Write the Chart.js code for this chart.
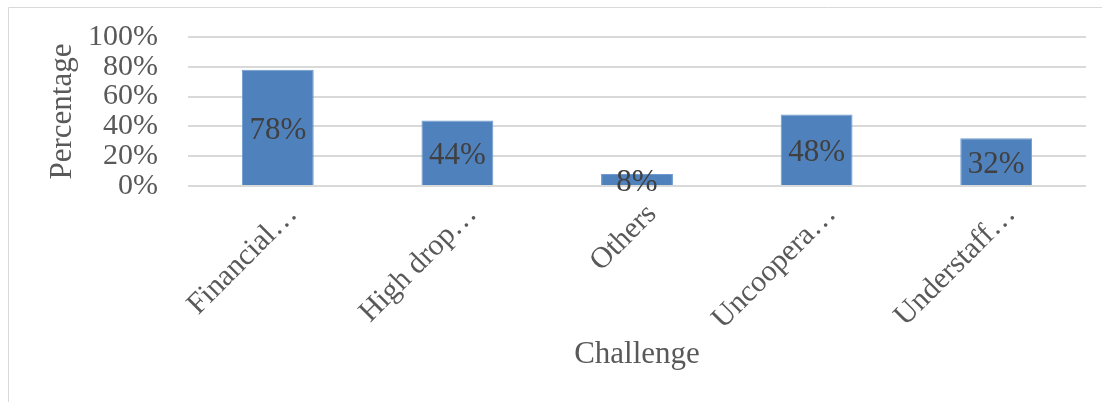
<!DOCTYPE html>
<html>
<head>
<meta charset="utf-8">
<script src="https://cdn.jsdelivr.net/npm/chart.js@4/dist/chart.umd.min.js"></script>
<style>
  html, body { margin: 0; padding: 0; background: #ffffff; }
  #wrap { width: 1102px; height: 402px; position: relative; }
</style>
</head>
<body>
<div id="wrap"><canvas id="c" width="1102" height="402"></canvas></div>
<script>
const categories = ["Financial…", "High drop…", "Others", "Uncoopera…", "Understaff…"];
const values = [78, 44, 8, 48, 32];
const yTicks = [0, 20, 40, 60, 80, 100];
const xTitle = "Challenge";
const yTitle = "Percentage";

const FONT = "'Liberation Serif', 'Times New Roman', serif";

const frame = {
  id: 'frame',
  beforeDraw(chart) {
    const ctx = chart.ctx;
    ctx.save();
    ctx.fillStyle = '#ffffff';
    ctx.fillRect(0, 0, chart.width, chart.height);
    ctx.strokeStyle = '#d9d9d9';
    ctx.lineWidth = 1;
    ctx.beginPath();
    ctx.moveTo(8.5, 402);
    ctx.lineTo(8.5, 7.5);
    ctx.lineTo(1102, 7.5);
    ctx.stroke();
    ctx.restore();
  }
};

const barLabels = {
  id: 'barLabels',
  afterDatasetsDraw(chart) {
    const ctx = chart.ctx;
    const meta = chart.getDatasetMeta(0);
    ctx.save();
    ctx.font = "31px " + FONT;
    ctx.fillStyle = '#404040';
    ctx.textAlign = 'center';
    ctx.textBaseline = 'middle';
    meta.data.forEach((bar, i) => {
      const cy = (bar.y + bar.base) / 2;
      ctx.fillText(values[i] + '%', bar.x, cy + 3);
    });
    ctx.restore();
  }
};

new Chart(document.getElementById('c'), {
  type: 'bar',
  data: {
    labels: categories,
    datasets: [{
      data: values,
      backgroundColor: '#4f81bd',
      borderColor: '#6f9ad0',
      borderWidth: 1,
      barPercentage: 0.8,
      categoryPercentage: 0.5
    }]
  },
  options: {
    responsive: false,
    animation: false,
    devicePixelRatio: 1,
    layout: { padding: { left: 0, right: 16, top: 37, bottom: 0 } },
    plugins: { legend: { display: false }, tooltip: { enabled: false } },
    scales: {
      x: {
        afterFit(scale) { scale.height = 216; scale.paddingTop = 0; scale.paddingBottom = 0; },
        grid: { display: false, drawTicks: false },
        border: { display: false },
        ticks: {
          autoSkip: false,
          minRotation: 45, maxRotation: 45,
          padding: 11,
          labelOffset: 15,
          color: '#595959',
          font: { family: FONT, size: 30 }
        },
        title: {
          display: true, text: xTitle, color: '#595959',
          font: { family: FONT, size: 31 },
          padding: { top: 0, bottom: 29 }
        }
      },
      y: {
        min: 0, max: 100,
        afterFit(scale) { scale.width = 188; scale.paddingTop = 0; scale.paddingBottom = 0; },
        afterBuildTicks(scale) { scale.ticks = yTicks.map(v => ({ value: v })); },
        grid: { color: '#d9d9d9', lineWidth: 2, drawTicks: false },
        border: { display: false },
        ticks: {
          autoSkip: false,
          stepSize: 20,
          padding: 30,
          color: '#595959',
          font: { family: FONT, size: 30, lineHeight: 1 },
          callback: v => v + '%'
        },
        title: {
          display: true, text: yTitle, color: '#595959',
          font: { family: FONT, size: 31 },
          padding: { top: 44, bottom: 0 }
        }
      }
    }
  },
  plugins: [frame, barLabels]
});
</script>
</body>
</html>
